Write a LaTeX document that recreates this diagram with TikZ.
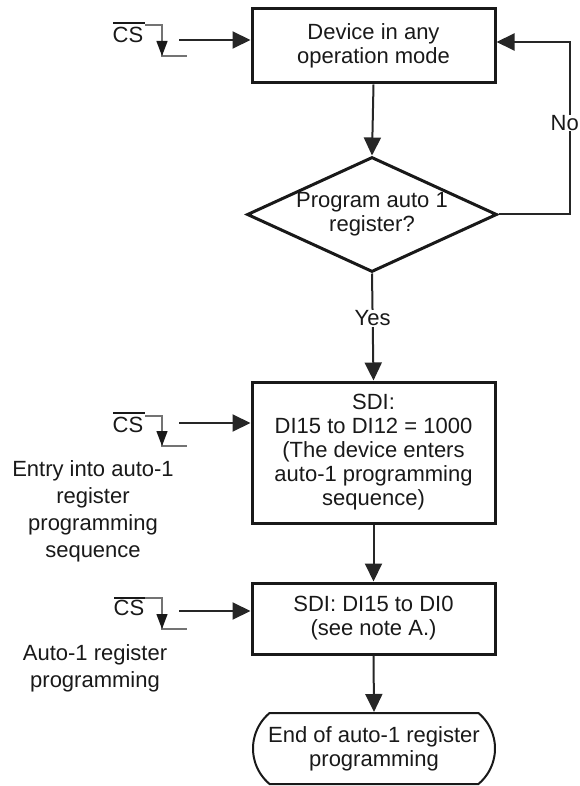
\documentclass[tikz,border=0pt]{standalone}
\usepackage{fontspec}
\setmainfont{Liberation Sans}
\usetikzlibrary{arrows.meta,shapes.geometric,shapes.misc}
\begin{document}
\begin{tikzpicture}[x=1pt,y=-1pt,
  txt/.style={font=\fontsize{22}{24}\selectfont, text=black!90, align=center},
  side/.style={font=\fontsize{22}{27}\selectfont, text=black!90, align=center},
  box/.style={txt, draw=black!90, line width=3pt, minimum width=243pt, inner sep=0pt},
  flow/.style={line width=2pt, draw=black!85, -{Triangle[length=18pt,width=17pt]}},
  sig/.style={draw=black!55, line width=1.3pt},
  sigtip/.style={draw=black!55, line width=1.3pt, -{Triangle[length=15pt,width=11pt,color=black!90]}},
  cs/.style={font=\fontsize{22}{24}\selectfont, text=black!90, inner sep=0pt},
  ovl/.style={draw=black!90, line width=1.3pt},
  lbl/.style={txt, fill=white, inner sep=1pt}
]
\useasboundingbox (0,0) rectangle (580,786);

% main flow nodes
\node[box, minimum height=74pt] (box1) at (373.5,46) {Device in any\\operation mode};
\node[txt, draw=black!90, line width=3pt, shape=diamond, shape aspect=2.2, inner sep=0pt,
      minimum width=250pt, minimum height=115pt] (dia) at (372,214.5) {Program auto 1\\register?};
\node[box, minimum height=141pt] (box2) at (373.5,452.5)
  {SDI:\\DI15 to DI12 = 1000\\(The device enters\\auto-1 programming\\sequence)};
\node[box, minimum height=71pt] (box3) at (373.5,618.5) {SDI: DI15 to DI0\\(see note A.)};
\node[txt, draw=black!90, line width=2pt, shape=rounded rectangle, rounded rectangle arc length=100,
      minimum width=242pt, minimum height=71pt, inner sep=0pt] (term) at (374,748.5)
  {End of auto-1 register\\programming};

% flow connectors
\draw[flow] (box1.south) -- (dia.north);
\draw[flow] (dia.south) -- node[lbl, pos=0.42] (yes) {Yes} (box2.north);
\coordinate (nocorner) at (570,214.5);
\coordinate (notop) at (570,42);
\draw[flow] (dia.east) -- (nocorner) -- (notop) -- (box1.east |- notop);
\node[txt, fill=white, inner sep=0.5pt, anchor=east] (no) at (579.5,123) {No};
\draw[flow] (box2.south) -- (box3.north);
\draw[flow] (box3.south) -- (term.north);

% CS signal 1
\node[cs] (cs1) at (128,34.5) {CS};
\draw[ovl] (113,23) -- (145,23);
\coordinate (s1a) at (145,25); \coordinate (s1b) at (162,25);
\coordinate (s1c) at (162,56); \coordinate (s1d) at (187,56);
\draw[sig] (s1a) -- (s1b) -- (s1c) -- (s1d);
\draw[sigtip] (s1b) -- (s1c);
\coordinate (a1) at (179,40);
\draw[flow] (a1) -- (box1.west |- a1);

% CS signal 2
\node[cs] (cs2) at (128,424.5) {CS};
\draw[ovl] (113,413) -- (145,413);
\coordinate (s2a) at (145,416); \coordinate (s2b) at (162,416);
\coordinate (s2c) at (162,446); \coordinate (s2d) at (187,446);
\draw[sig] (s2a) -- (s2b) -- (s2c) -- (s2d);
\draw[sigtip] (s2b) -- (s2c);
\coordinate (a2) at (179,423);
\draw[flow] (a2) -- (box2.west |- a2);
\node[side] (entry) at (93,511) {Entry into auto-1\\register\\programming\\sequence};

% CS signal 3
\node[cs] (cs3) at (129,608) {CS};
\draw[ovl] (114,598) -- (145,598);
\coordinate (s3a) at (145,598); \coordinate (s3b) at (162,598);
\coordinate (s3c) at (162,629); \coordinate (s3d) at (187,629);
\draw[sig] (s3a) -- (s3b) -- (s3c) -- (s3d);
\draw[sigtip] (s3b) -- (s3c);
\coordinate (a3) at (179,611);
\draw[flow] (a3) -- (box3.west |- a3);
\node[side] (autolbl) at (95,668.5) {Auto-1 register\\programming};
\end{tikzpicture}
\end{document}
